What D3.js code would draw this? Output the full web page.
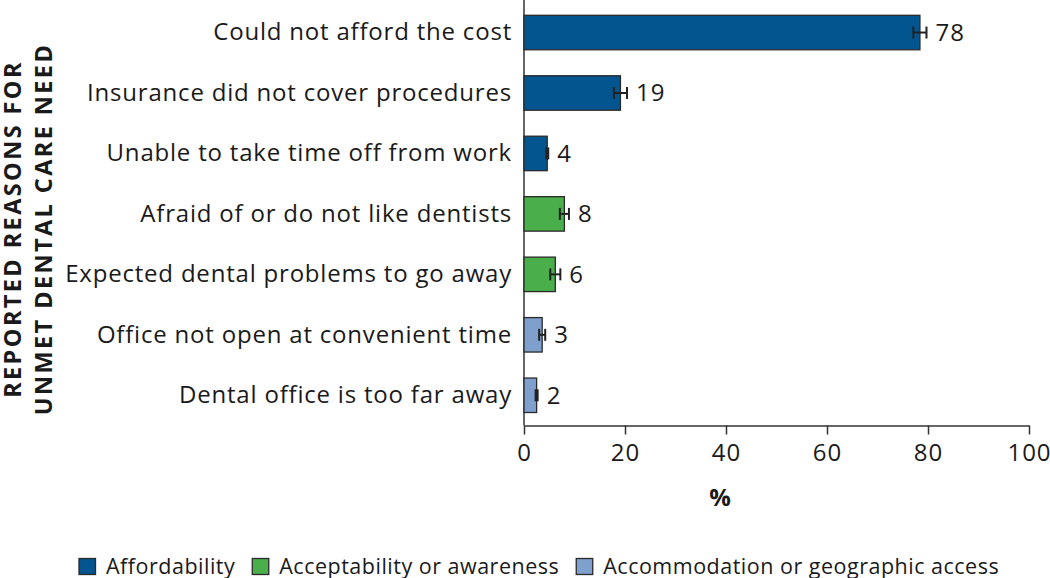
<!DOCTYPE html>
<html><head><meta charset="utf-8">
<script src="https://cdn.jsdelivr.net/npm/d3@7"></script>
<style>body{margin:0;background:#fff}svg{display:block}text{font-family:"Open Sans",sans-serif;fill:#1a1a1a}</style>
</head><body><svg id="c" width="1050" height="578"></svg>
<script>
const categories = ["Could not afford the cost","Insurance did not cover procedures","Unable to take time off from work","Afraid of or do not like dentists","Expected dental problems to go away","Office not open at convenient time","Dental office is too far away"];
const values = [78.4, 19.1, 4.6, 8.0, 6.2, 3.6, 2.5];
const valueLabels = ["78","19","4","8","6","3","2"];
const errors = [1.3, 1.3, 0.2, 0.9, 1.0, 0.6, 0.2];
const groups = ["Affordability","Affordability","Affordability","Acceptability or awareness","Acceptability or awareness","Accommodation or geographic access","Accommodation or geographic access"];
const legendItems = ["Affordability","Acceptability or awareness","Accommodation or geographic access"];
const colors = ["#02558f","#4aae4a","#7f9fcc"];
const xTicks = [0,20,40,60,80,100];

const svg = d3.select("#c");
const x = d3.scaleLinear().domain([0,100]).range([524,1029]);
const y = d3.scaleBand().domain(categories).range([2.3,425.5]).paddingInner(0.43).paddingOuter(0.215);
const color = d3.scaleOrdinal().domain(legendItems).range(colors);

// x axis
const xa = svg.append("g").attr("transform","translate(0,425.5)")
  .call(d3.axisBottom(x).tickValues(xTicks).tickSize(9).tickPadding(9).tickSizeOuter(0));
xa.select(".domain").attr("stroke","#333").attr("stroke-width",1.5);
xa.selectAll(".tick line").attr("stroke","#333").attr("stroke-width",1.5);
xa.selectAll(".tick text").attr("font-size",24).attr("letter-spacing","1px").attr("font-family","Open Sans").attr("fill","#1a1a1a");

// y axis
const ya = svg.append("g").attr("transform","translate(524,0)")
  .call(d3.axisLeft(y).tickSize(0).tickPadding(12).tickSizeOuter(0));
ya.select(".domain").attr("stroke","#333").attr("stroke-width",1.5).attr("d","M0,0V425.5");
ya.selectAll(".tick text").attr("font-size",24).attr("letter-spacing","0.8px").attr("font-family","Open Sans").attr("fill","#1a1a1a");

// bars
svg.append("g").selectAll("rect").data(categories).join("rect")
  .attr("x",x(0)).attr("y",d=>y(d))
  .attr("width",(d,i)=>x(values[i])-x(0)).attr("height",y.bandwidth())
  .attr("fill",(d,i)=>color(groups[i])).attr("stroke","#2a2a2a").attr("stroke-width",1.3);

// error bars
const eb = svg.append("g").attr("stroke","#222").attr("stroke-width",2);
categories.forEach((c,i)=>{
  const cy = y(c)+y.bandwidth()/2;
  const x0 = x(values[i]-errors[i]), x1 = x(values[i]+errors[i]);
  eb.append("line").attr("x1",x0).attr("x2",x1).attr("y1",cy).attr("y2",cy);
  eb.append("line").attr("x1",x0).attr("x2",x0).attr("y1",cy-6).attr("y2",cy+6);
  eb.append("line").attr("x1",x1).attr("x2",x1).attr("y1",cy-6).attr("y2",cy+6);
});

// value labels
svg.append("g").selectAll("text").data(categories).join("text")
  .attr("x",(d,i)=>Math.max(x(values[i]),x(values[i]+errors[i]))+9)
  .attr("y",d=>y(d)+y.bandwidth()/2).attr("dy","0.35em")
  .attr("font-size",24).attr("letter-spacing","1px").text((d,i)=>valueLabels[i]);

// x title
svg.append("text").attr("x",720).attr("y",506).attr("text-anchor","middle")
  .attr("font-size",24).attr("font-weight","bold").text("%");

// y title
const yt = svg.append("text").attr("transform","translate(0,229) rotate(-90)")
  .attr("text-anchor","middle").attr("font-size",23.5).attr("letter-spacing","2.4px").attr("font-weight","bold");
yt.append("tspan").attr("x",0).attr("y",20.5).text("REPORTED REASONS FOR");
yt.append("tspan").attr("x",0).attr("y",51.5).text("UNMET DENTAL CARE NEED");

// legend
const lg = svg.append("g");
let lx = 79;
legendItems.forEach((name,i)=>{
  lg.append("rect").attr("x",lx).attr("y",558.5).attr("width",16.5).attr("height",16)
    .attr("fill",colors[i]).attr("stroke","#2a2a2a").attr("stroke-width",1.3);
  const t = lg.append("text").attr("x",lx+27).attr("y",573.5).attr("font-size",21.5).attr("letter-spacing","0.5px").text(name);
  lx = lx + 27 + t.node().getComputedTextLength() + 17;
});
</script></body></html>
